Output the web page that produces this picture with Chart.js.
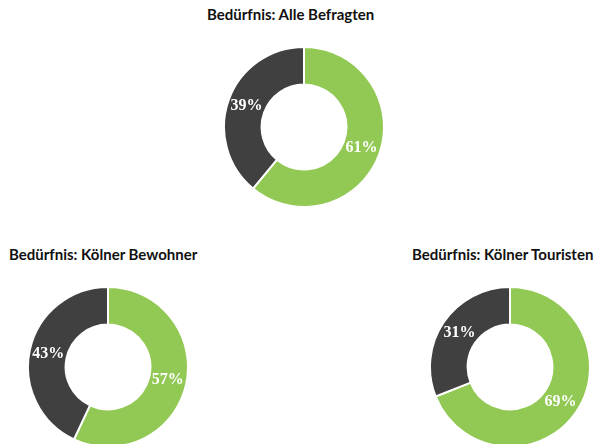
<!DOCTYPE html>
<html>
<head>
<meta charset="utf-8">
<script src="https://cdn.jsdelivr.net/npm/chart.js@4"></script>
<style>
  html, body { margin: 0; padding: 0; background: #fff; width: 594px; height: 444px; overflow: hidden; }
  .box { position: absolute; width: 162px; height: 162px; }
  .ttl { position: absolute; font: bold 15px Lato, "Open Sans", sans-serif; color: #111; white-space: nowrap; }
</style>
</head>
<body>
<div class="ttl" style="left:207px; top:5px;">Bedürfnis: Alle Befragten</div>
<div class="ttl" style="left:9px; top:245px;">Bedürfnis: Kölner Bewohner</div>
<div class="ttl" style="left:412px; top:245px;">Bedürfnis: Kölner Touristen</div>
<div class="box" style="left:223px; top:46px;"><canvas id="alle"></canvas></div>
<div class="box" style="left:27px; top:286px;"><canvas id="bewohner"></canvas></div>
<div class="box" style="left:429px; top:286px;"><canvas id="touristen"></canvas></div>
<script>
var categories = ['Bedürfnis', 'Kein Bedürfnis'];
var alleValues = [61, 39];
var bewohnerValues = [57, 43];
var touristenValues = [69, 31];
var colors = ['#92C954', '#404040'];

// white percent labels at the middle of each slice
var pctLabels = {
    id: 'pctLabels',
    afterDatasetsDraw: function(chart) {
        var ctx = chart.ctx;
        var ds = chart.data.datasets[0];
        chart.getDatasetMeta(0).data.forEach(function(arc, i) {
            var p = arc.tooltipPosition();
            ctx.save();
            ctx.font = 'bold 16px "Liberation Serif", serif';
            ctx.fillStyle = '#fff';
            ctx.textAlign = 'center';
            ctx.textBaseline = 'middle';
            ctx.fillText(ds.data[i] + '%', p.x, p.y);
            ctx.restore();
        });
    }
};

function makeDonut(id, values) {
    new Chart(document.getElementById(id), {
        type: 'doughnut',
        data: {
            labels: categories,
            datasets: [{
                data: values,
                backgroundColor: colors,
                borderColor: '#fff',
                borderWidth: 2
            }]
        },
        options: {
            responsive: true,
            maintainAspectRatio: false,
            animation: false,
            cutout: '53%',
            layout: { padding: 0 },
            plugins: {
                legend: { display: false },
                tooltip: { enabled: false }
            }
        },
        plugins: [pctLabels]
    });
}

makeDonut('alle', alleValues);
makeDonut('bewohner', bewohnerValues);
makeDonut('touristen', touristenValues);
</script>
</body>
</html>
